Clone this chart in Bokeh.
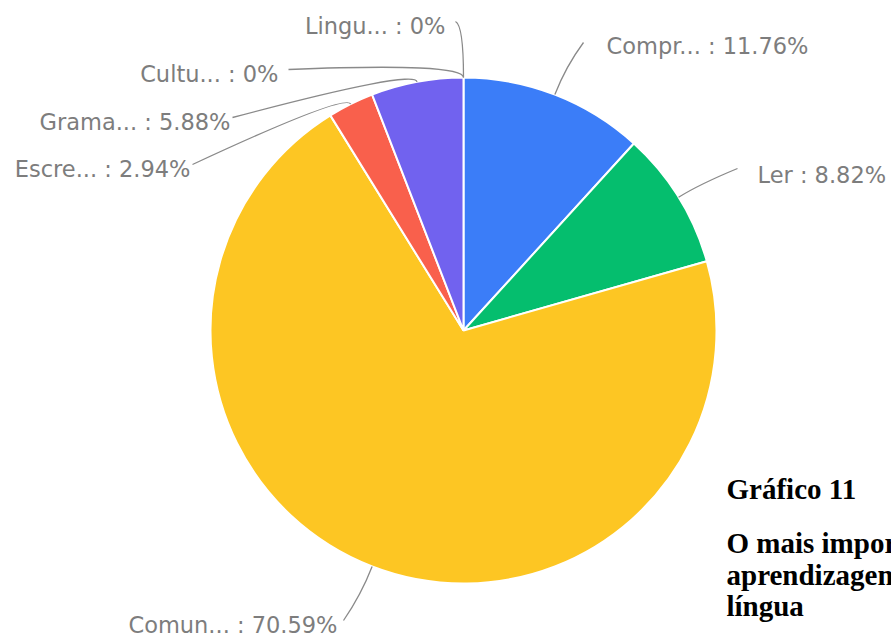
import math
from bokeh.plotting import figure
from bokeh.models import Range1d, ColumnDataSource
from bokeh.core.properties import value
from bokeh.embed import file_html
from bokeh.resources import INLINE

# ---- data ----
categories = ["Compr...", "Ler", "Comun...", "Escre...", "Grama...", "Cultu...", "Lingu..."]
percents = [11.76, 8.82, 70.59, 2.94, 5.88, 0.0, 0.0]
colors = ["#3b7df8", "#05be6e", "#fdc623", "#f9604c", "#7162ef", "#9e9e9e", "#9e9e9e"]

title_lines = ["Gráfico 11", "O mais importante na", "aprendizagem de uma", "língua"]

# ---- layout (page pixel coordinates) ----
W, H = 891, 639
PAGE_H = 639
cx_pg, cy_pg, R = 463, 330, 253
# label text anchor x, text centre y, alignment, leader end x, leader end y, control offset
label_layout = {
    "Compr...": (606, 45, "left", 583, 42, 30),
    "Ler": (757, 174, "left", 737, 168, 25),
    "Comun...": (337, 624, "right", 343, 620, 30),
    "Escre...": (190, 168, "right", 192, 164, 12),
    "Grama...": (230, 121, "right", 232, 117, 13),
    "Cultu...": (278, 73, "right", 288, 69, 15),
    "Lingu...": (445, 25, "right", 455, 21, 52),
}
title_x = 726
title_baselines = [488, 542, 574, 605]


def Y(y_page):
    return PAGE_H - y_page


p = figure(width=W, height=H, output_backend="svg", toolbar_location=None,
           x_range=Range1d(0, W), y_range=Range1d(PAGE_H - H, PAGE_H),
           x_axis_location=None, y_axis_location=None, min_border=0)
p.grid.visible = False
p.outline_line_color = None
p.background_fill_color = "white"
p.border_fill_color = "white"

cx, cy = cx_pg, Y(cy_pg)
total = sum(percents)

starts, ends, mids = [], [], []
cum = 0.0
for v in percents:
    a0 = math.pi / 2 - 2 * math.pi * cum / total
    cum += v
    a1 = math.pi / 2 - 2 * math.pi * cum / total
    starts.append(a0)
    ends.append(a1)
    mids.append((a0 + a1) / 2)

nz = [i for i, v in enumerate(percents) if v > 0]
wsrc = ColumnDataSource(dict(
    x=[cx] * len(nz), y=[cy] * len(nz),
    start=[starts[i] for i in nz], end=[ends[i] for i in nz],
    color=[colors[i] for i in nz]))
p.wedge(x="x", y="y", radius=R, start_angle="start", end_angle="end",
        direction="clock", fill_color="color", line_color="white",
        line_width=2, source=wsrc)

# leader lines
lx0, ly0, lx1, ly1, lcx, lcy = [], [], [], [], [], []
left_x, left_y, left_t = [], [], []
right_x, right_y, right_t = [], [], []
for i, cat in enumerate(categories):
    tx, ty, al, ex, ey, d = label_layout[cat]
    th = mids[i]
    lx0.append(cx + R * math.cos(th))
    ly0.append(cy + R * math.sin(th))
    lcx.append(cx + (R + d) * math.cos(th))
    lcy.append(cy + (R + d) * math.sin(th))
    lx1.append(ex)
    ly1.append(Y(ey))
    pct = percents[i]
    txt = f"{cat} : {pct:g}%" if pct == 0 else f"{cat} : {pct:.2f}%"
    if al == "left":
        left_x.append(tx); left_y.append(Y(ty)); left_t.append(txt)
    else:
        right_x.append(tx); right_y.append(Y(ty)); right_t.append(txt)

p.quadratic(x0=lx0, y0=ly0, x1=lx1, y1=ly1, cx=lcx, cy=lcy,
            line_color="#8a8a8a", line_width=1.3)

lab_style = dict(text_font=value("DejaVu Sans"), text_font_size="22.5px",
                 text_color="#7d7d7d", text_baseline="middle")
p.text(x=left_x, y=left_y, text=left_t, text_align="left", **lab_style)
p.text(x=right_x, y=right_y, text=right_t, text_align="right", **lab_style)

p.text(x=[title_x] * len(title_lines), y=[Y(b) for b in title_baselines],
       text=title_lines, text_align="left", text_baseline="alphabetic",
       text_font=value("Liberation Serif"), text_font_style="bold",
       text_font_size="29px", text_color="#000000")

open("out.html", "w").write(file_html(p, INLINE))
